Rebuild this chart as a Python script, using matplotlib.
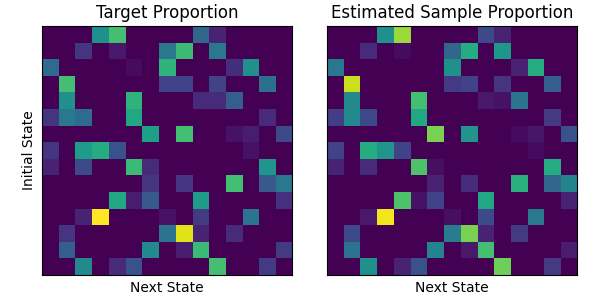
import numpy as np
import matplotlib
matplotlib.use("Agg")
import matplotlib.pyplot as plt

# 15x15 transition matrices (approx. colour levels)
target = [
    [0, 0, 0, 0.50, 0.70, 0, 0, 0, 0, 0.33, 0.10, 0, 0, 0, 0],
    [0, 0, 0.15, 0, 0.07, 0, 0, 0.40, 0.68, 0, 0.40, 0, 0, 0, 0],
    [0.35, 0, 0, 0, 0, 0.03, 0, 0.65, 0, 0, 0, 0.13, 0.50, 0, 0],
    [0, 0.70, 0, 0, 0, 0, 0, 0.20, 0.20, 0, 0.20, 0, 0, 0.37, 0],
    [0, 0.50, 0, 0, 0, 0.65, 0, 0, 0, 0.12, 0.12, 0.30, 0, 0, 0],
    [0.15, 0.40, 0.35, 0, 0, 0.60, 0, 0, 0, 0, 0, 0, 0, 0.12, 0],
    [0, 0, 0, 0, 0, 0, 0.57, 0, 0.70, 0, 0, 0.05, 0.08, 0, 0.22],
    [0.15, 0, 0.55, 0.62, 0.25, 0, 0, 0, 0, 0, 0, 0, 0.05, 0, 0],
    [0.10, 0, 0.22, 0, 0, 0.68, 0.12, 0, 0, 0, 0, 0, 0, 0.52, 0],
    [0, 0, 0, 0, 0, 0, 0.15, 0, 0.15, 0, 0, 0.70, 0, 0.28, 0.40],
    [0, 0, 0, 0, 0.60, 0.08, 0.28, 0, 0, 0.55, 0, 0, 0, 0, 0.14],
    [0, 0, 0.10, 1.00, 0, 0, 0, 0.05, 0, 0.17, 0, 0, 0.38, 0, 0],
    [0, 0.15, 0, 0, 0, 0, 0, 0.38, 0.95, 0.10, 0, 0.12, 0, 0, 0],
    [0, 0.30, 0, 0, 0, 0, 0.48, 0, 0.08, 0.68, 0, 0, 0, 0, 0.17],
    [0, 0, 0.47, 0, 0.12, 0.25, 0, 0, 0, 0, 0.70, 0, 0, 0.17, 0],
]

estimated = [
    [0, 0, 0, 0.50, 0.85, 0, 0, 0, 0, 0.22, 0.10, 0, 0, 0, 0],
    [0, 0, 0.12, 0, 0.03, 0, 0, 0.33, 0.62, 0, 0.53, 0, 0, 0, 0],
    [0.40, 0, 0, 0, 0, 0, 0, 0.50, 0, 0, 0, 0.10, 0.62, 0, 0],
    [0, 0.92, 0, 0, 0, 0, 0, 0.17, 0.20, 0, 0.15, 0, 0, 0.30, 0],
    [0, 0.47, 0, 0, 0, 0.70, 0, 0, 0, 0.07, 0.05, 0.38, 0, 0, 0],
    [0.18, 0.48, 0.22, 0, 0, 0.60, 0, 0, 0, 0, 0, 0, 0, 0.17, 0],
    [0, 0, 0, 0, 0, 0, 0.80, 0, 0.52, 0, 0, 0.03, 0.06, 0, 0.25],
    [0.20, 0, 0.62, 0.52, 0.20, 0, 0, 0, 0, 0, 0, 0, 0.03, 0, 0],
    [0.10, 0, 0.12, 0, 0, 0.72, 0.04, 0, 0, 0, 0, 0, 0, 0.62, 0],
    [0, 0, 0, 0, 0, 0, 0.10, 0, 0.12, 0, 0, 0.63, 0, 0.33, 0.45],
    [0, 0, 0, 0, 0.72, 0.05, 0.20, 0, 0, 0.60, 0, 0, 0, 0, 0.10],
    [0, 0, 0.07, 0.98, 0, 0, 0, 0.04, 0, 0.22, 0, 0, 0.40, 0, 0],
    [0, 0.22, 0, 0, 0, 0, 0, 0.42, 0.80, 0.10, 0, 0.17, 0, 0, 0],
    [0, 0.38, 0, 0, 0, 0, 0.45, 0, 0.07, 0.70, 0, 0, 0, 0, 0.08],
    [0, 0, 0.50, 0, 0.10, 0.25, 0, 0, 0, 0, 0.78, 0, 0, 0.17, 0],
]

titles = ['Target Proportion', 'Estimated Sample Proportion']

fig = plt.figure(figsize=(6, 3), dpi=100)
ax1 = fig.add_axes([0.070, 0.083, 0.417, 0.830])
ax2 = fig.add_axes([0.545, 0.083, 0.417, 0.830])

for ax, mat, title in zip([ax1, ax2], [target, estimated], titles):
    ax.imshow(np.array(mat), cmap='viridis', vmin=0, vmax=1,
              aspect='auto', interpolation='nearest')
    ax.set_xticks([])
    ax.set_yticks([])
    ax.set_title(title, fontsize=12)
    ax.set_xlabel('Next State', fontsize=10)

ax1.set_ylabel('Initial State', fontsize=10)

plt.savefig('out.png', dpi=100)
